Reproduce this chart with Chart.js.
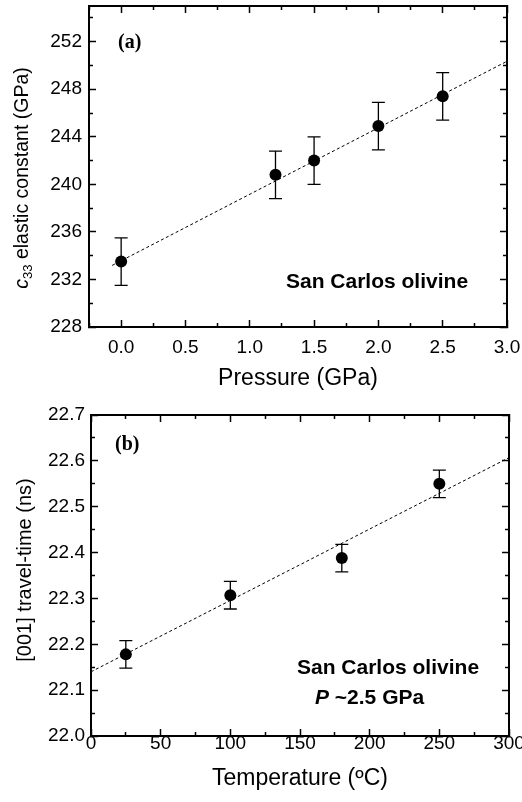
<!DOCTYPE html>
<html>
<head>
<meta charset="utf-8">
<script src="https://cdn.jsdelivr.net/npm/chart.js@4.4.1/dist/chart.umd.min.js"></script>
<style>
  html, body { margin: 0; padding: 0; background: #fff; overflow: hidden; width: 522px; height: 802px; }
  canvas { position: absolute; left: 0; }
</style>
</head>
<body>
<canvas id="chartA" width="540" height="400" style="top:0"></canvas>
<canvas id="chartB" width="540" height="402" style="top:400px"></canvas>
<script>
// (a) c33 vs pressure
const pressure = [0.0, 1.2, 1.5, 2.0, 2.5];
const c33 = [233.5, 240.8, 242.0, 244.9, 247.4];
const c33Err = [2.0, 2.0, 2.0, 2.0, 2.0];
const fitPressure = [-0.07, 3.0];
const fitC33 = [233.18, 250.35];
const pressureTicks = [0.0, 0.5, 1.0, 1.5, 2.0, 2.5, 3.0];
const pressureMinor = [-0.25, 0.25, 0.75, 1.25, 1.75, 2.25, 2.75];
const c33Ticks = [228, 232, 236, 240, 244, 248, 252];
const c33Minor = [230, 234, 238, 242, 246, 250, 254];

// (b) travel time vs temperature
const temperature = [25, 100, 180, 250];
const travelTime = [22.178, 22.307, 22.388, 22.55];
const travelErr = [0.03, 0.03, 0.03, 0.03];
const fitTemp = [0, 300];
const fitTravel = [22.14, 22.607];
const tempTicks = [0, 50, 100, 150, 200, 250, 300];
const tempMinor = [25, 75, 125, 175, 225, 275];
const travelTicks = [22.0, 22.1, 22.2, 22.3, 22.4, 22.5, 22.6, 22.7];
const travelMinor = [22.05, 22.15, 22.25, 22.35, 22.45, 22.55, 22.65];

const SANS = "'Liberation Sans', Arial, sans-serif";
const SERIF = "'Liberation Serif', 'Times New Roman', serif";

function axis(position, min, max, values, o) {
  const horizontal = position === 'top' || position === 'bottom';
  return {
    type: 'linear',
    position: position,
    min: min,
    max: max,
    weight: o.weight,
    afterBuildTicks: (s) => { s.ticks = values.map((v) => ({ value: v })); },
    afterFit: (s) => {
      if (horizontal) s.height = o.size; else s.width = o.size;
      // keep edge labels from pushing the plot area around
      s.paddingTop = 0; s.paddingBottom = 0; s.paddingLeft = 0; s.paddingRight = 0;
    },
    grid: { drawOnChartArea: false, drawTicks: true, tickLength: -o.len, tickColor: '#000', tickWidth: 1.5 },
    border: { display: !!o.border, color: '#000', width: 2 },
    ticks: {
      display: !!o.labels,
      callback: o.labels || (() => ''),
      autoSkip: false,
      maxRotation: 0,
      padding: o.pad || 0,
      color: '#000',
      font: { family: SANS, size: 19 },
    },
    title: o.title ? {
      display: true,
      text: o.title,
      color: '#000',
      font: { family: SANS, size: 23 },
      padding: { top: 0, bottom: o.titlePad },
    } : { display: false },
  };
}

function errorBars(xs, ys, errs) {
  return {
    id: 'errorBars',
    beforeDatasetsDraw(chart) {
      const { ctx, scales } = chart;
      ctx.save();
      ctx.strokeStyle = '#000';
      ctx.lineWidth = 1.3;
      xs.forEach((x, i) => {
        const px = scales.x.getPixelForValue(x);
        const top = scales.y.getPixelForValue(ys[i] + errs[i]);
        const bot = scales.y.getPixelForValue(ys[i] - errs[i]);
        ctx.beginPath();
        ctx.moveTo(px, top); ctx.lineTo(px, bot);
        ctx.moveTo(px - 6.5, top); ctx.lineTo(px + 6.5, top);
        ctx.moveTo(px - 6.5, bot); ctx.lineTo(px + 6.5, bot);
        ctx.stroke();
      });
      ctx.restore();
    },
  };
}

// texts drawn on the canvas: y title with pieces, and annotations
function textLayer(yTitle, notes) {
  return {
    id: 'textLayer',
    afterDraw(chart) {
      const ctx = chart.ctx;
      const area = chart.chartArea;
      ctx.save();
      ctx.fillStyle = '#000';
      ctx.textBaseline = 'middle';
      // rotated y title
      ctx.save();
      ctx.translate(yTitle.x, yTitle.y);
      ctx.rotate(-Math.PI / 2);
      let total = 0;
      yTitle.parts.forEach((p) => { ctx.font = p.font; total += ctx.measureText(p.text).width; });
      let cx = -total / 2;
      yTitle.parts.forEach((p) => {
        ctx.font = p.font;
        ctx.textAlign = 'left';
        ctx.fillText(p.text, cx, p.dy || 0);
        cx += ctx.measureText(p.text).width;
      });
      ctx.restore();
      // annotations
      notes.forEach((n) => {
        let x = area.left + n.dx;
        n.parts.forEach((p) => {
          ctx.font = p.font;
          ctx.textAlign = 'left';
          ctx.fillText(p.text, x, area.top + n.dy);
          x += ctx.measureText(p.text).width;
        });
      });
      ctx.restore();
    },
  };
}

function makeChart(id, cfg) {
  return new Chart(document.getElementById(id), {
    data: {
      datasets: [
        {
          type: 'scatter',
          data: cfg.xs.map((x, i) => ({ x: x, y: cfg.ys[i] })),
          backgroundColor: '#000',
          borderWidth: 0,
          pointRadius: 6,
          order: 0,
        },
        {
          type: 'line',
          data: cfg.fitX.map((x, i) => ({ x: x, y: cfg.fitY[i] })),
          borderColor: '#000',
          borderWidth: 1,
          borderDash: [3, 2.5],
          pointRadius: 0,
          fill: false,
          order: 1,
        },
      ],
    },
    options: {
      responsive: false,
      animation: false,
      layout: { padding: cfg.padding },
      plugins: { legend: { display: false }, tooltip: { enabled: false } },
      scales: {
        x: axis('bottom', cfg.xMin, cfg.xMax, cfg.xTicks, { weight: 1, size: cfg.xSize, len: 7, border: true, labels: cfg.xLabel, pad: cfg.xPad, title: cfg.xTitle, titlePad: cfg.titlePad }),
        xMinor: axis('bottom', cfg.xMin, cfg.xMax, cfg.xMinor, { weight: 0, size: 0, len: 4 }),
        xTop: axis('top', cfg.xMin, cfg.xMax, cfg.xTicks, { weight: 1, size: 0, len: 7, border: true }),
        xTopMinor: axis('top', cfg.xMin, cfg.xMax, cfg.xMinor, { weight: 0, size: 0, len: 4 }),
        y: axis('left', cfg.yMin, cfg.yMax, cfg.yTicks, { weight: 1, size: cfg.ySize, len: 7, border: true, labels: cfg.yLabel, pad: cfg.yPad }),
        yMinor: axis('left', cfg.yMin, cfg.yMax, cfg.yMinor, { weight: 0, size: 0, len: 4 }),
        yRight: axis('right', cfg.yMin, cfg.yMax, cfg.yTicks, { weight: 1, size: 0, len: 7, border: true }),
        yRightMinor: axis('right', cfg.yMin, cfg.yMax, cfg.yMinor, { weight: 0, size: 0, len: 4 }),
      },
    },
    plugins: [errorBars(cfg.xs, cfg.ys, cfg.errs), textLayer(cfg.yTitle, cfg.notes)],
  });
}

makeChart('chartA', {
  xs: pressure, ys: c33, errs: c33Err, fitX: fitPressure, fitY: fitC33,
  xMin: -0.25, xMax: 3.0, xTicks: pressureTicks, xMinor: pressureMinor,
  yMin: 228, yMax: 255, yTicks: c33Ticks, yMinor: c33Minor,
  xLabel: (v) => Number(v).toFixed(1),
  yLabel: (v) => String(Math.round(v)),
  padding: { top: 6, right: 33, left: 0, bottom: 0 },
  xSize: 73, ySize: 89, xPad: 16, yPad: 14,
  xTitle: 'Pressure (GPa)', titlePad: 8,
  yTitle: {
    x: 23, y: 178,
    parts: [
      { text: 'c', font: 'italic 19.5px ' + SANS },
      { text: '33', font: '13px ' + SANS, dy: 5 },
      { text: ' elastic constant (GPa)', font: '19.5px ' + SANS },
    ],
  },
  notes: [
    { dx: 29, dy: 37, parts: [{ text: '(a)', font: 'bold 20px ' + SERIF }] },
    { dx: 197, dy: 276, parts: [{ text: 'San Carlos olivine', font: 'bold 21px ' + SANS }] },
  ],
});

makeChart('chartB', {
  xs: temperature, ys: travelTime, errs: travelErr, fitX: fitTemp, fitY: fitTravel,
  xMin: 0, xMax: 300, xTicks: tempTicks, xMinor: tempMinor,
  yMin: 22.0, yMax: 22.7, yTicks: travelTicks, yMinor: travelMinor,
  xLabel: (v) => String(Math.round(v)),
  yLabel: (v) => Number(v).toFixed(1),
  padding: { top: 15, right: 31, left: 0, bottom: 0 },
  xSize: 66, ySize: 91, xPad: 3, yPad: 13,
  xTitle: 'Temperature (ºC)', titlePad: 10,
  yTitle: {
    x: 25, y: 170,
    parts: [{ text: '[001] travel-time (ns)', font: '20px ' + SANS }],
  },
  notes: [
    { dx: 24, dy: 30, parts: [{ text: '(b)', font: 'bold 20px ' + SERIF }] },
    { dx: 206, dy: 253, parts: [{ text: 'San Carlos olivine', font: 'bold 21px ' + SANS }] },
    { dx: 224, dy: 283, parts: [
      { text: 'P', font: 'italic bold 21px ' + SANS },
      { text: ' ~2.5 GPa', font: 'bold 21px ' + SANS },
    ] },
  ],
});
</script>
</body>
</html>
